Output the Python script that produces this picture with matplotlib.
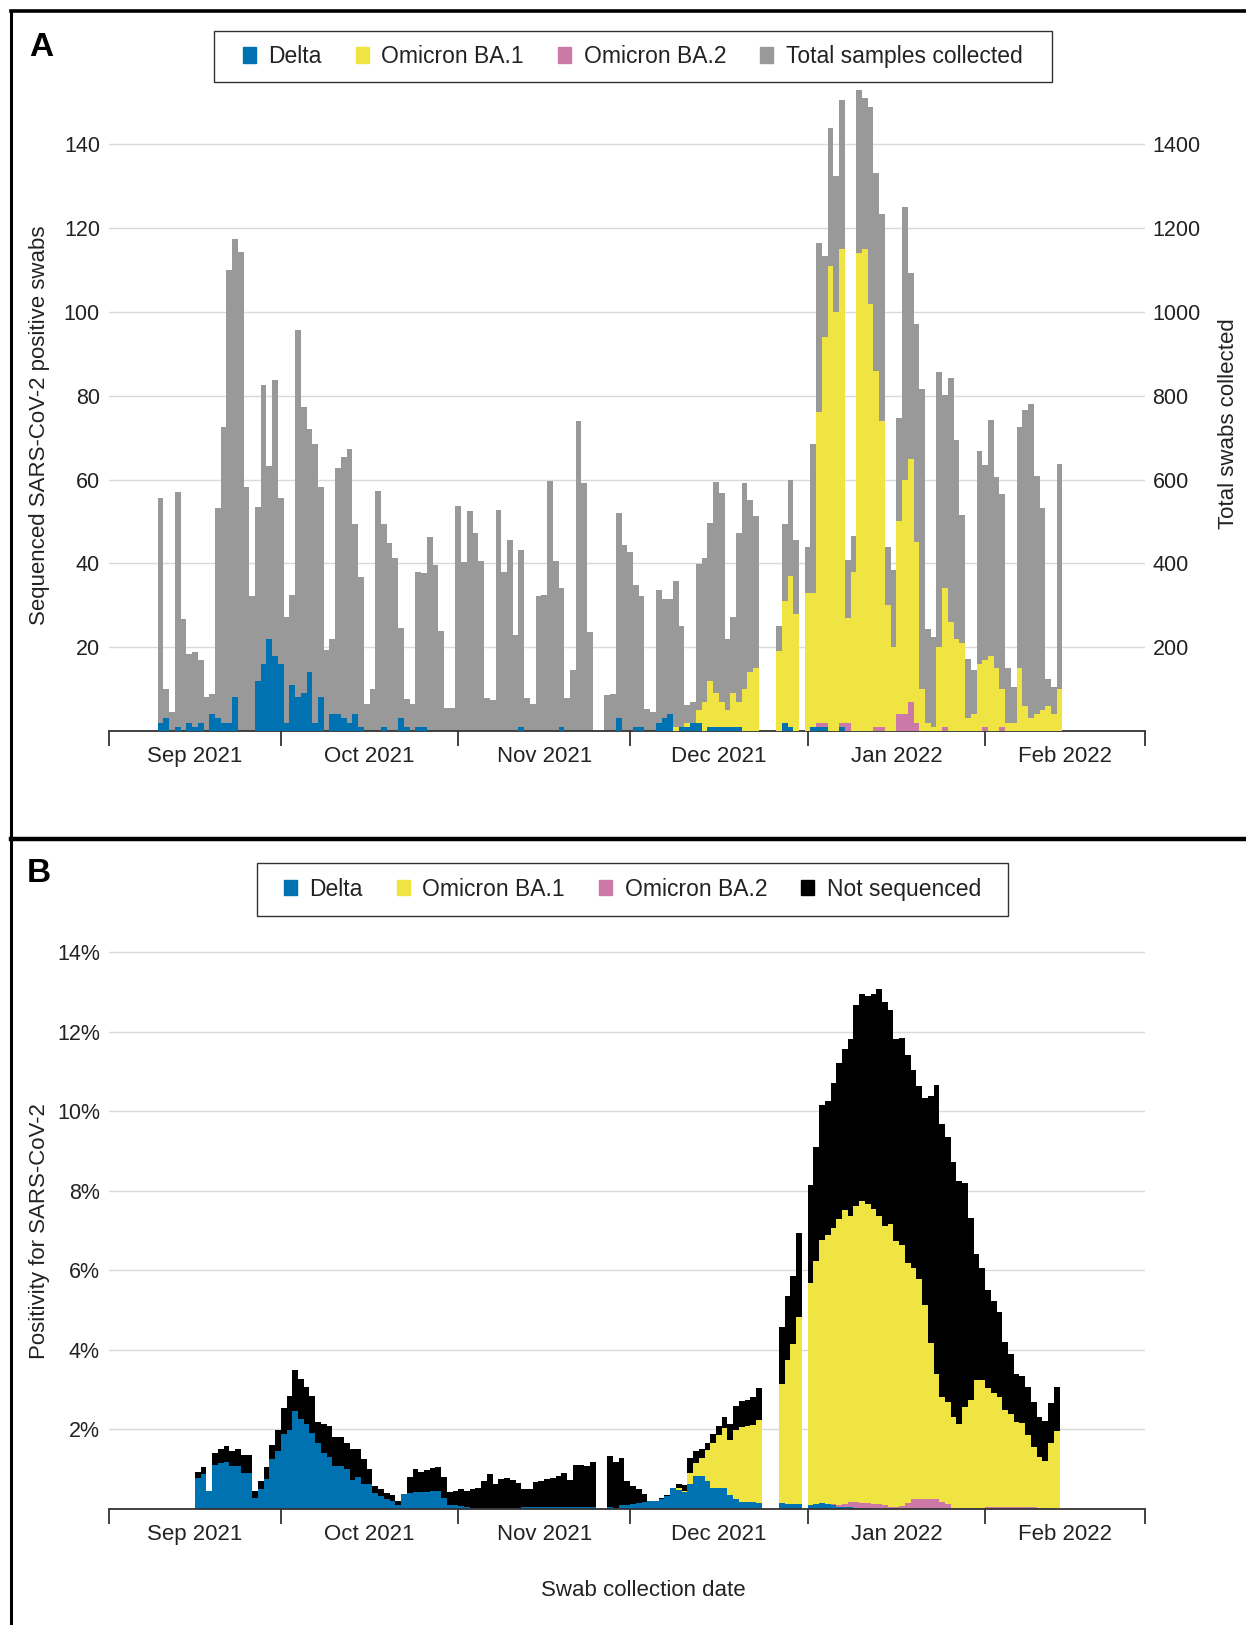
import numpy as np
import pandas as pd
import matplotlib
matplotlib.use("Agg")
import matplotlib.pyplot as plt
from matplotlib.patches import Patch, Rectangle
from matplotlib.lines import Line2D

plt.rcParams["font.family"] = ["Liberation Sans", "DejaVu Sans"]

# ---------------- panel A : daily swabs, 10 Sep 2021 - 14 Feb 2022 ----------------
swab_dates = pd.date_range("2021-09-10", "2022-02-14", freq="D")

total_samples = (
    [555, 100, 45, 570, 267, 184, 188, 169, 80, 89, 532, 726, 1100, 1175, 1142, 583, 322, 535, 825, 633, 838]
    + [555, 273, 324, 956, 772, 720, 684, 583, 192, 219, 627, 653, 674, 493, 368, 65, 100, 573, 495, 449,
       412, 245, 76, 65, 379, 378, 462, 395, 239, 55, 55]
    + [537, 402, 524, 472, 405, 79, 73, 528, 379, 456, 229, 431, 79, 65, 321, 324, 596, 405, 340, 79,
       146, 739, 592, 236, 0, 0, 86, 88, 519, 444]
    + [428, 348, 322, 53, 45, 337, 314, 314, 359, 250, 62, 68, 399, 412, 497, 594, 568, 219, 273, 472,
       592, 550, 514, 0, 0, 0, 250, 493, 599, 456, 0]
    + [438, 684, 1164, 1133, 1438, 1324, 1506, 407, 466, 1530, 1511, 1490, 1332, 1234, 440, 383, 747, 1250, 1094, 972,
       817, 244, 224, 856, 801, 842, 694, 516, 171, 146, 669]
    + [635, 742, 607, 566, 151, 104, 725, 765, 780, 609, 532, 124, 104, 638]
)

delta_counts = (
    [2, 3, 0, 1, 0, 2, 1, 2, 0, 4, 3, 2, 2, 8, 0, 0, 0, 12, 16, 22, 18]
    + [16, 2, 11, 8, 9, 14, 2, 8, 0, 4, 4, 3, 2, 4, 1, 0, 0, 0, 1, 0, 0, 3, 1, 0, 1, 1, 0, 0, 0, 0, 0]
    + [0, 0, 0, 0, 0, 0, 0, 0, 0, 0, 0, 1, 0, 0, 0, 0, 0, 0, 1, 0, 0, 0, 0, 0, 0, 0, 0, 0, 3, 0]
    + [0, 1, 1, 0, 0, 2, 3, 4, 0, 1, 1, 2, 2, 0, 1, 1, 1, 1, 1, 1, 0, 0, 0, 0, 0, 0, 0, 2, 1, 0, 0]
    + [0, 1, 1, 1, 0, 0, 1, 0, 0, 0, 0, 0, 0, 0, 0, 0, 0, 0, 0, 0, 0, 0, 0, 0, 0, 0, 0, 0, 0, 0, 0]
    + [0, 0, 0, 0, 0, 0, 0, 0, 0, 0, 0, 0, 0, 0]
)

ba1_counts = (
    [0] * 82  # no BA.1 before December
    + [0, 0, 0, 0, 0, 0, 0, 0, 1, 0, 1, 0, 3, 7, 11, 8, 6, 4, 8, 6, 10, 14, 15, 0, 0, 0, 19, 29, 36, 28, 0]
    + [33, 32, 74, 92, 111, 100, 113, 25, 38, 114, 115, 102, 85, 73, 30, 20, 46, 56, 58, 43,
       10, 2, 1, 20, 33, 26, 22, 21, 3, 4, 16]
    + [16, 18, 15, 9, 2, 2, 15, 6, 3, 4, 5, 6, 4, 10]
)

ba2_counts = (
    [0] * 113  # no BA.2 before January
    + [0, 0, 1, 1, 0, 0, 1, 2, 0, 0, 0, 0, 1, 1, 0, 0, 4, 4, 7, 2, 0, 0, 0, 0, 1, 0, 0, 0, 0, 0, 0]
    + [1, 0, 0, 1, 0, 0, 0, 0, 0, 0, 0, 0, 0, 0]
)

# ---------------- panel B : positivity (%), 16 Sep 2021 - 13 Feb 2022 ----------------
pos_dates = pd.date_range("2021-09-16", "2022-02-13", freq="D")

pos_total = (
    [0.94, 1.05, 0.45, 1.42, 1.50, 1.59, 1.46, 1.50, 1.36, 1.36, 0.45, 0.70, 1.05, 1.60, 1.99]
    + [2.54, 2.85, 3.50, 3.27, 3.06, 2.85, 2.18, 2.14, 2.08, 1.80, 1.80, 1.67, 1.52, 1.52, 1.25, 1.01,
       0.57, 0.49, 0.41, 0.34, 0.19, 0.38, 0.80, 1.00, 0.94, 0.97, 1.04, 1.06, 0.81, 0.42, 0.45]
    + [0.49, 0.46, 0.51, 0.53, 0.70, 0.89, 0.62, 0.76, 0.78, 0.74, 0.66, 0.49, 0.49, 0.68, 0.70,
       0.76, 0.78, 0.83, 0.91, 0.74, 1.11, 1.10, 1.08, 1.19, 0, 0, 1.33, 1.19, 1.29, 0.71]
    + [0.58, 0.50, 0.38, 0.21, 0.21, 0.27, 0.35, 0.54, 0.64, 0.60, 1.27, 1.46, 1.50, 1.67, 1.88,
       2.08, 2.32, 2.15, 2.59, 2.72, 2.75, 2.82, 3.05, 0, 0, 0, 4.58, 5.37, 5.85, 6.94, 0]
    + [8.15, 9.11, 10.16, 10.27, 10.72, 11.21, 11.57, 11.82, 12.68, 12.96, 12.90, 12.96, 13.07, 12.75,
       12.56, 11.82, 11.85, 11.42, 11.05, 10.65, 10.35, 10.39, 10.67, 9.68, 9.35, 8.73, 8.25, 8.20,
       7.31, 6.42, 6.07]
    + [5.52, 5.22, 4.96, 4.19, 3.89, 3.40, 3.34, 3.08, 2.69, 2.31, 2.22, 2.67, 3.08]
)

pos_delta = (
    [0.77, 0.89, 0.45, 1.10, 1.15, 1.19, 1.08, 1.08, 0.91, 0.91, 0.28, 0.49, 0.76, 1.25, 1.46]
    + [1.88, 1.99, 2.47, 2.26, 2.14, 1.92, 1.67, 1.42, 1.32, 1.08, 1.08, 1.00, 0.74, 0.81, 0.64, 0.62,
       0.39, 0.32, 0.25, 0.19, 0.11, 0.37, 0.41, 0.42, 0.42, 0.42, 0.45, 0.45, 0.28, 0.09, 0.09]
    + [0.07, 0.04, 0.03, 0.03, 0.03, 0.03, 0.03, 0.03, 0.03, 0.03, 0.03, 0.04, 0.04, 0.04, 0.04,
       0.04, 0.04, 0.05, 0.05, 0.05, 0.05, 0.05, 0.05, 0.05, 0, 0, 0.06, 0.02, 0.10, 0.10]
    + [0.12, 0.14, 0.18, 0.20, 0.20, 0.24, 0.33, 0.52, 0.48, 0.42, 0.64, 0.84, 0.84, 0.70, 0.52,
       0.52, 0.54, 0.35, 0.24, 0.18, 0.18, 0.17, 0.16, 0, 0, 0, 0.16, 0.12, 0.13, 0.13, 0]
    + [0.10, 0.12, 0.14, 0.13, 0.10, 0.06, 0.05, 0.04, 0.03, 0.02, 0.02, 0.01, 0.01] + [0] * 18
    + [0] * 13
)

pos_ba1 = (
    [0] * 84  # 16 Sep - 8 Dec
    + [0.04, 0.02, 0.27, 0.31, 0.43, 0.78, 1.13, 1.34, 1.49, 1.38, 1.74, 1.87, 1.90, 1.94, 2.09,
       0, 0, 0, 2.99, 3.64, 4.02, 4.70, 0]
    + [5.59, 6.11, 6.62, 6.76, 6.95, 7.19, 7.39, 7.19, 7.46, 7.62, 7.52, 7.42, 7.25, 7.04, 7.13,
       6.70, 6.55, 6.05, 5.81, 5.54, 4.87, 3.92, 3.15, 2.64, 2.56, 2.28, 2.12, 2.55, 2.72, 3.22, 3.22]
    + [3.00, 2.89, 2.78, 2.46, 2.36, 2.16, 2.12, 1.82, 1.52, 1.27, 1.18, 1.66, 1.96]
)

pos_ba2 = (
    [0] * 107  # 16 Sep - 31 Dec
    + [0, 0, 0, 0, 0.03, 0.05, 0.07, 0.14, 0.14, 0.12, 0.12, 0.11, 0.11, 0.09, 0.04, 0.04, 0.08,
       0.15, 0.25, 0.25, 0.25, 0.25, 0.25, 0.17, 0.13, 0.03, 0.02, 0.02, 0.02, 0.03, 0.03]
    + [0.04, 0.04, 0.04, 0.04, 0.04, 0.04, 0.04, 0.04, 0.04, 0.03, 0.02, 0.01, 0.01]
)

BLUE = "#0072B2"
YELLOW = "#F0E442"
PINK = "#CC79A7"
GREY = "#999999"
BLACK = "#000000"
TXT = "#222222"
AXC = "#333333"
GRID = "#d9d9d9"
W, H = 1246, 1625

month_starts = pd.date_range("2021-09-01", "2022-03-01", freq="MS")
month_mids = month_starts[:-1] + (month_starts[1:] - month_starts[:-1]) / 2
month_labels = [d.strftime("%b %Y") for d in month_starts[:-1]]
x0, x1 = month_starts[0], month_starts[-1]


def style_xaxis(ax):
    ax.set_xlim(x0, x1)
    ax.set_xticks(month_starts)
    ax.set_xticklabels([])
    ax.set_xticks(month_mids, minor=True)
    ax.set_xticklabels(month_labels, minor=True)
    ax.tick_params(axis="x", which="major", length=10.5, width=1.3, color=AXC, direction="out")
    ax.tick_params(axis="x", which="minor", length=0, pad=11, labelsize=16, labelcolor=TXT)
    for s in ["top", "left", "right"]:
        ax.spines[s].set_visible(False)
    ax.spines["bottom"].set_color(AXC)
    ax.spines["bottom"].set_linewidth(1.3)


def bar_kw(color):
    return dict(width=1.0, color=color, linewidth=0, antialiased=False)


def legend_box(x_left, y_top, x_right, y_bottom, handles, labels):
    # frame drawn by hand so its padding matches the original
    fig.add_artist(Rectangle((x_left / W, 1 - y_bottom / H), (x_right - x_left) / W,
                             (y_bottom - y_top) / H, transform=fig.transFigure,
                             fill=False, edgecolor=AXC, linewidth=1.0))
    lg = fig.legend(handles, labels, loc="center",
                    bbox_to_anchor=((x_left + x_right) / 2 / W, 1 - (y_top + y_bottom) / 2 / H),
                    ncol=4, fontsize=16.5, frameon=False, handlelength=0.55, handleheight=0.65,
                    handletextpad=0.55, columnspacing=1.5, borderpad=0, borderaxespad=0)
    for t in lg.get_texts():
        t.set_color(TXT)
    return lg


fig = plt.figure(figsize=(W / 100, H / 100), dpi=100)

# ---- panel A ----
posA = [0.0875, 0.5502, 0.8318, 0.3945]
axA_tot = fig.add_axes(posA)
axA = fig.add_axes(posA)
axA.patch.set_visible(False)

axA_tot.bar(swab_dates, total_samples, **bar_kw(GREY))
axA_tot.set_ylim(0, 1530)
axA_tot.yaxis.tick_right()
axA_tot.set_yticks(range(200, 1401, 200))
axA_tot.tick_params(axis="y", length=0, pad=5, labelsize=15.5, labelcolor=TXT)
axA_tot.set_axisbelow(True)
axA_tot.yaxis.grid(True, color=GRID, linewidth=1)
style_xaxis(axA_tot)

d = np.array(delta_counts, float)
b2 = np.array(ba2_counts, float)
b1 = np.array(ba1_counts, float)
axA.bar(swab_dates, d, **bar_kw(BLUE))
axA.bar(swab_dates, b2, bottom=d, **bar_kw(PINK))
axA.bar(swab_dates, b1, bottom=d + b2, **bar_kw(YELLOW))
axA.set_xlim(x0, x1)
axA.set_ylim(0, 153)
axA.set_yticks(range(20, 141, 20))
axA.tick_params(axis="y", length=0, pad=6.5, labelsize=15.5, labelcolor=TXT)
axA.tick_params(axis="x", which="both", bottom=False, labelbottom=False)
for s in axA.spines.values():
    s.set_visible(False)

# ---- panel B ----
axB = fig.add_axes([0.0875, 0.0714, 0.8318, 0.3449])
pd_ = np.array(pos_delta, float)
p2 = np.array(pos_ba2, float)
p1 = np.array(pos_ba1, float)
pt = np.array(pos_total, float)
not_seq = np.clip(pt - pd_ - p2 - p1, 0, None)
kwB = dict(align="edge")
axB.bar(pos_dates, pd_, **kwB, **bar_kw(BLUE))
axB.bar(pos_dates, p2, bottom=pd_, **kwB, **bar_kw(PINK))
axB.bar(pos_dates, p1, bottom=pd_ + p2, **kwB, **bar_kw(YELLOW))
axB.bar(pos_dates, not_seq, bottom=pd_ + p2 + p1, **kwB, **bar_kw(BLACK))
axB.set_ylim(0, 14.1)
axB.set_yticks(range(2, 15, 2))
axB.set_yticklabels([f"{v}%" for v in range(2, 15, 2)])
axB.tick_params(axis="y", length=0, pad=6.5, labelsize=15.5, labelcolor=TXT)
axB.set_axisbelow(True)
axB.yaxis.grid(True, color=GRID, linewidth=1)
style_xaxis(axB)

# ---- legends ----
legend_box(213.5, 31, 1052, 82,
           [Patch(color=BLUE), Patch(color=YELLOW), Patch(color=PINK), Patch(color=GREY)],
           ["Delta", "Omicron BA.1", "Omicron BA.2", "Total samples collected"])
legend_box(257, 862.5, 1008, 915.5,
           [Patch(color=BLUE), Patch(color=YELLOW), Patch(color=PINK), Patch(color=BLACK)],
           ["Delta", "Omicron BA.1", "Omicron BA.2", "Not sequenced"])

# ---- text ----
fig.text(41 / W, 1 - 47 / H, "A", fontsize=24, fontweight="bold", ha="center", va="center")
fig.text(39 / W, 1 - 874 / H, "B", fontsize=24, fontweight="bold", ha="center", va="center")
fig.text(39.5 / W, 1 - 425 / H, "Sequenced SARS-CoV-2 positive swabs", rotation=90,
         fontsize=16, color=TXT, ha="center", va="center")
fig.text(1228 / W, 1 - 424 / H, "Total swabs collected", rotation=90,
         fontsize=16, color=TXT, ha="center", va="center")
fig.text(39.5 / W, 1 - 1231 / H, "Positivity for SARS-CoV-2", rotation=90,
         fontsize=16, color=TXT, ha="center", va="center")
fig.text(643 / W, 1 - 1591 / H, "Swab collection date", fontsize=16, color=TXT,
         ha="center", va="center")

# ---- panel frame lines ----
fx = 10.7 / W
fig.add_artist(Line2D([fx, 1], [1 - 11 / H] * 2, transform=fig.transFigure, color="black", lw=2.6))
fig.add_artist(Line2D([fx] * 2, [0, 1 - 11 / H], transform=fig.transFigure, color="black", lw=2.2))
fig.add_artist(Line2D([fx, 1], [1 - 838.5 / H] * 2, transform=fig.transFigure, color="black", lw=3.2))

fig.savefig("out.png", dpi=100, facecolor="white")
